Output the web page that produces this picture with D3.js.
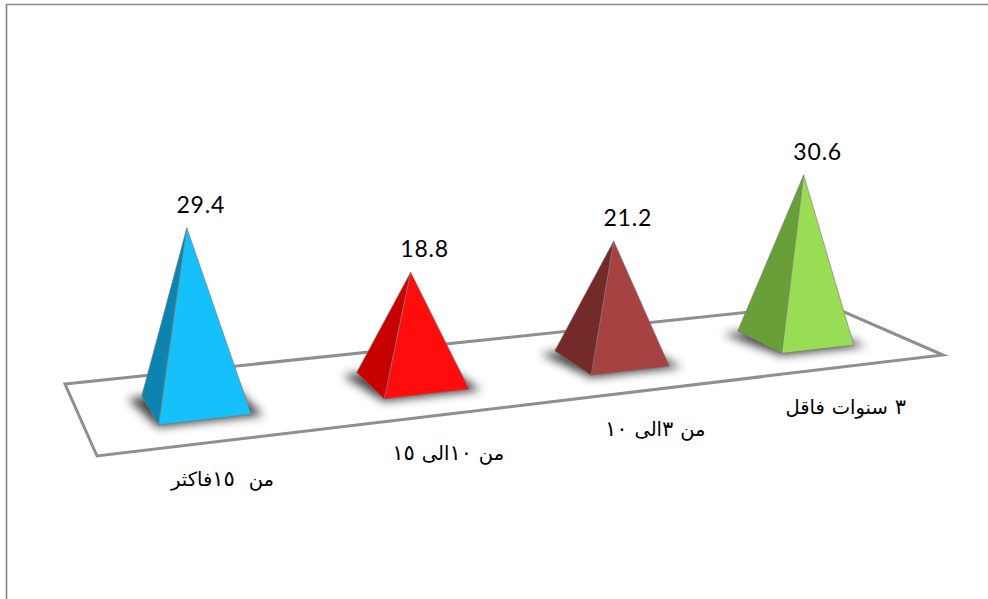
<!DOCTYPE html>
<html><head><meta charset="utf-8">
<script src="https://cdn.jsdelivr.net/npm/d3@7"></script>
<style>html,body{margin:0;padding:0;background:#fff}svg{display:block}</style>
</head><body>
<svg id="chart" width="988" height="599"></svg>
<script>
const categories = ["من  ١٥فاكثر", "من ١٠الى ١٥", "من ٣الى ١٠", "٣ سنوات فاقل"];
const values = [29.4, 18.8, 21.2, 30.6];
const valueLabels = ["29.4", "18.8", "21.2", "30.6"];
const lightColors = ["#14c0fb", "#ff1010", "#a64242", "#99dd55"];
const darkColors = ["#0f84b0", "#c80606", "#742a2a", "#689f38"];

const svg = d3.select("#chart");
const defs = svg.append("defs");
defs.append("filter").attr("id","blur").attr("x","-40%").attr("y","-60%").attr("width","180%").attr("height","220%")
  .append("feGaussianBlur").attr("stdDeviation",5);
defs.append("filter").attr("id","soft").attr("x","-5%").attr("y","-5%").attr("width","110%").attr("height","110%")
  .append("feGaussianBlur").attr("stdDeviation",0.4);

svg.append("path").attr("d","M6.5,599V4.5H988").attr("fill","none").attr("stroke","#8a8a8a").attr("stroke-width",1.7);

const P00=[65,384], P10=[826,304], P11=[943,355], P01=[97,456];
function makeHomography(p0,p1,p2,p3){
  const dx1=p1[0]-p2[0], dx2=p3[0]-p2[0], sx=p0[0]-p1[0]+p2[0]-p3[0];
  const dy1=p1[1]-p2[1], dy2=p3[1]-p2[1], sy=p0[1]-p1[1]+p2[1]-p3[1];
  const den=dx1*dy2-dx2*dy1;
  const g=(sx*dy2-dx2*sy)/den, h=(dx1*sy-sx*dy1)/den;
  const a=p1[0]-p0[0]+g*p1[0], b=p3[0]-p0[0]+h*p3[0], c=p0[0];
  const d=p1[1]-p0[1]+g*p1[1], e=p3[1]-p0[1]+h*p3[1], f=p0[1];
  return (u,v)=>{const w=g*u+h*v+1;return {x:(a*u+b*v+c)/w,y:(d*u+e*v+f)/w,w:1/w};};
}
const floor = makeHomography(P00,P10,P11,P01);

const xBand = d3.scaleBand().domain(d3.range(categories.length)).range([0,1]).paddingInner(0.6).paddingOuter(0.3);
const yHeight = d3.scaleLinear().domain([0,40]).range([0,231]);
const lean = d3.scaleLinear().domain([195,799]).range([-0.049,0.055]);
const vFront=0.71, vBack=0.295;

svg.append("path")
  .attr("d",d3.line()([P00,P10,P11,P01])+"Z")
  .attr("fill","#fff").attr("stroke","#8f8f8f").attr("stroke-width",3).attr("stroke-linejoin","miter");

const nodes = categories.map((c,i)=>{
  const u0=xBand(i), u1=u0+xBand.bandwidth();
  const BL=floor(u0,vBack), FL=floor(u0,vFront), FR=floor(u1,vFront), BR=floor(u1,vBack);
  const C=floor((u0+u1)/2,(vBack+vFront)/2);
  const h=yHeight(values[i])*C.w;
  const A={x:C.x+h*lean(C.x),y:C.y-h};
  return {i,BL,FL,FR,BR,C,A};
});
const pt=p=>[p.x,p.y];
const line=d3.line();

svg.append("g").selectAll("path").data(nodes).join("path")
  .attr("d",d=>{
    const s=(p,k,dx,dy)=>[d.C.x+(p.x-d.C.x)*k+dx, d.C.y+(p.y-d.C.y)*k+dy];
    return line([s(d.BL,1.15,-6,4),s(d.FL,1.02,0,2),s(d.FR,1.12,5,0),s(d.BR,1,4,0)])+"Z";
  })
  .attr("fill","#333").attr("opacity",0.9).attr("filter","url(#blur)");

const g=svg.append("g").selectAll("g").data(nodes).join("g").attr("filter","url(#soft)");
g.append("path").attr("d",d=>line([pt(d.A),pt(d.BL),pt(d.FL)])+"Z")
  .attr("fill",d=>darkColors[d.i]).attr("stroke","#777").attr("stroke-width",0.6);
g.append("path").attr("d",d=>line([pt(d.A),pt(d.FL),pt(d.FR)])+"Z")
  .attr("fill",d=>lightColors[d.i]).attr("stroke","#777").attr("stroke-width",0.6);

svg.append("g").selectAll("text").data(nodes).join("text")
  .attr("x",d=>d.A.x+14)
  .attr("y",d=>d.A.y-15)
  .attr("text-anchor","middle").attr("font-family","Lato, sans-serif").attr("font-size",23).attr("letter-spacing",0.8).attr("fill","#000")
  .text(d=>valueLabels[d.i]);

// category labels: Arabic-Indic digit runs are set wider, as in the reference
const catText = svg.append("g").selectAll("text").data(nodes).join("text")
  .attr("x",d=>d.FL.x+64)
  .attr("y",d=>d.FL.y+61)
  .attr("text-anchor","middle").attr("direction","rtl").attr("xml:space","preserve").style("white-space","pre")
  .attr("font-family","'Liberation Sans', 'DejaVu Sans', sans-serif").attr("font-size",19.5).attr("word-spacing",1.5).attr("fill","#000");
catText.each(function(d){
  const t=d3.select(this);
  categories[d.i].split(/([٠-٩]+)/).filter(s=>s.length).forEach(s=>{
    const ts=t.append("tspan").text(s);
    if(/[٠-٩]/.test(s)) ts.attr("font-size",21).attr("letter-spacing",4.5);
  });
});
</script>
</body></html>
